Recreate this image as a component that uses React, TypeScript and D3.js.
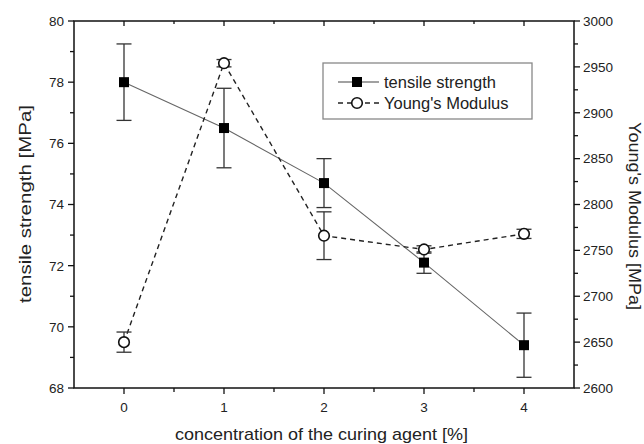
import React from "react";
import * as d3 from "d3";

const concentrations = [0, 1, 2, 3, 4];
const tensile = [78.0, 76.5, 74.7, 72.1, 69.4];
const tensileErr = [1.25, 1.3, 0.8, 0.35, 1.05];
const modulus = [2650, 2954, 2766, 2751, 2768];
const modulusErr = [11, 4, 26, 4, 5];
const xTicks = [0, 1, 2, 3, 4];
const xMinor = [0.5, 1.5, 2.5, 3.5];
const yLeftTicks = [68, 70, 72, 74, 76, 78, 80];
const yLeftMinor = [69, 71, 73, 75, 77, 79];
const yRightTicks = [2600, 2650, 2700, 2750, 2800, 2850, 2900, 2950, 3000];
const yRightMinor = [2625, 2675, 2725, 2775, 2825, 2875, 2925, 2975];

const W = 644, H = 444;
const L = 74, R = 574, T = 21, B = 388;
const FONT = "'Liberation Sans', Arial, sans-serif";
const TXT = "#222";

export default function App() {
  const x = d3.scaleLinear().domain([-0.5, 4.5]).range([L, R]);
  const yl = d3.scaleLinear().domain([68, 80]).range([B, T]);
  const yr = d3.scaleLinear().domain([2600, 3000]).range([B, T]);

  const lineT = d3.line<number>().x((_, i) => x(concentrations[i])).y((d) => yl(d))(tensile) || "";
  const lineM = d3.line<number>().x((_, i) => x(concentrations[i])).y((d) => yr(d))(modulus) || "";
  const cap = 7.5;

  return (
    <svg width={W} height={H} style={{ position: "absolute", left: 0, top: 0, background: "#fff" }}
      xmlns="http://www.w3.org/2000/svg">
      <rect x={0} y={0} width={W} height={H} fill="#fff" />
      {/* data lines */}
      <path d={lineT} fill="none" stroke="#666" strokeWidth={1.1} />
      <path d={lineM} fill="none" stroke="#222" strokeWidth={1.4} strokeDasharray="5,4" />
      {/* error bars tensile */}
      {concentrations.map((c, i) => {
        const cx = x(c);
        const y1 = yl(tensile[i] + tensileErr[i]);
        const y2 = yl(tensile[i] - tensileErr[i]);
        return (
          <g key={"et" + i} stroke="#333" strokeWidth={1.3}>
            <line x1={cx} x2={cx} y1={y1} y2={y2} />
            <line x1={cx - cap} x2={cx + cap} y1={y1} y2={y1} />
            <line x1={cx - cap} x2={cx + cap} y1={y2} y2={y2} />
          </g>
        );
      })}
      {concentrations.map((c, i) => {
        const cx = x(c);
        const y1 = yr(modulus[i] + modulusErr[i]);
        const y2 = yr(modulus[i] - modulusErr[i]);
        return (
          <g key={"em" + i} stroke="#333" strokeWidth={1.3}>
            <line x1={cx} x2={cx} y1={y1} y2={y2} />
            <line x1={cx - cap} x2={cx + cap} y1={y1} y2={y1} />
            <line x1={cx - cap} x2={cx + cap} y1={y2} y2={y2} />
          </g>
        );
      })}
      {/* markers */}
      {concentrations.map((c, i) => (
        <rect key={"s" + i} x={x(c) - 5} y={yl(tensile[i]) - 5} width={10} height={10} fill="#000" />
      ))}
      {concentrations.map((c, i) => (
        <circle key={"c" + i} cx={x(c)} cy={yr(modulus[i])} r={5.3} fill="#fff" stroke="#111" strokeWidth={1.6} />
      ))}
      {/* frame */}
      <rect x={L} y={T} width={R - L} height={B - T} fill="none" stroke="#111" strokeWidth={1.5} />
      {/* bottom ticks */}
      {xTicks.map((t) => (
        <g key={"xb" + t}>
          <line x1={x(t)} x2={x(t)} y1={B} y2={B + 6} stroke="#111" strokeWidth={1.3} />
          <line x1={x(t)} x2={x(t)} y1={T} y2={T + 5} stroke="#111" strokeWidth={1.3} />
          <text x={x(t)} y={412} textAnchor="middle" fontFamily={FONT} fontSize={13.5} fill={TXT}>{t}</text>
        </g>
      ))}
      {xMinor.map((t) => (
        <g key={"xm" + t}>
          <line x1={x(t)} x2={x(t)} y1={B} y2={B + 4} stroke="#111" strokeWidth={1.3} />
          <line x1={x(t)} x2={x(t)} y1={T} y2={T + 3} stroke="#111" strokeWidth={1.3} />
        </g>
      ))}
      {/* left ticks */}
      {yLeftTicks.map((t) => (
        <g key={"yl" + t}>
          <line x1={L - 6} x2={L} y1={yl(t)} y2={yl(t)} stroke="#111" strokeWidth={1.3} />
          <text x={L - 10} y={yl(t)} dy="0.36em" textAnchor="end" fontFamily={FONT} fontSize={13.5} fill={TXT}>{t}</text>
        </g>
      ))}
      {yLeftMinor.map((t) => (
        <line key={"ylm" + t} x1={L - 4} x2={L} y1={yl(t)} y2={yl(t)} stroke="#111" strokeWidth={1.3} />
      ))}
      {/* right ticks */}
      {yRightTicks.map((t) => (
        <g key={"yr" + t}>
          <line x1={R} x2={R + 6} y1={yr(t)} y2={yr(t)} stroke="#111" strokeWidth={1.3} />
          <text x={R + 9} y={yr(t)} dy="0.36em" textAnchor="start" fontFamily={FONT} fontSize={13.5} fill={TXT}>{t}</text>
        </g>
      ))}
      {yRightMinor.map((t) => (
        <line key={"yrm" + t} x1={R} x2={R + 4} y1={yr(t)} y2={yr(t)} stroke="#111" strokeWidth={1.3} />
      ))}
      {/* axis titles */}
      <text x={321.5} y={440} textAnchor="middle" fontFamily={FONT} fontSize={17} fill={TXT}
        textLength={293} lengthAdjust="spacingAndGlyphs">concentration of the curing agent [%]</text>
      <text transform="translate(31,204) rotate(-90)" textAnchor="middle" fontFamily={FONT} fontSize={17} fill={TXT}
        textLength={198} lengthAdjust="spacingAndGlyphs">tensile strength [MPa]</text>
      <text transform="translate(629,216) rotate(90)" textAnchor="middle" fontFamily={FONT} fontSize={16} fill={TXT}
        textLength={188} lengthAdjust="spacingAndGlyphs">Young's Modulus [MPa]</text>
      {/* legend */}
      <rect x={323} y={63} width={209} height={56} fill="#fff" stroke="#888" strokeWidth={1.3} />
      <line x1={338} x2={379} y1={82} y2={82} stroke="#444" strokeWidth={1.1} />
      <rect x={352} y={77} width={10} height={10} fill="#000" />
      <text x={384} y={82} dy="0.36em" fontFamily={FONT} fontSize={16.5} fill={TXT}>tensile strength</text>
      <line x1={338} x2={379} y1={103} y2={103} stroke="#222" strokeWidth={1.4} strokeDasharray="5,4" />
      <circle cx={357} cy={103} r={5.3} fill="#fff" stroke="#111" strokeWidth={1.6} />
      <text x={384} y={103} dy="0.36em" fontFamily={FONT} fontSize={16.5} fill={TXT}>Young's Modulus</text>
    </svg>
  );
}
